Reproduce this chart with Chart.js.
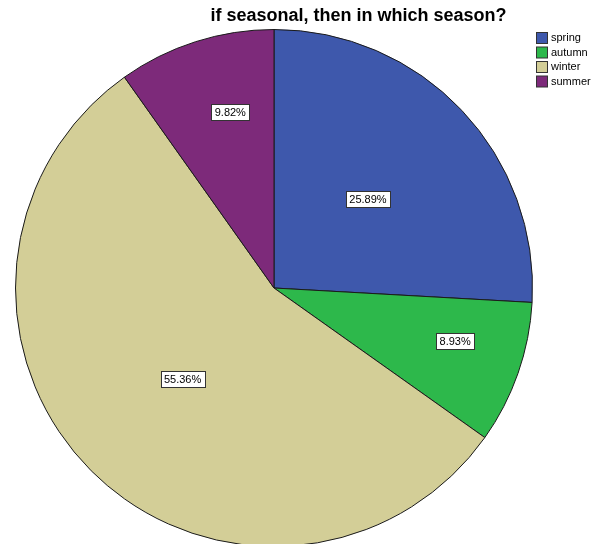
<!DOCTYPE html>
<html>
<head>
<meta charset="utf-8">
<script src="https://cdn.jsdelivr.net/npm/chart.js@4/dist/chart.umd.min.js"></script>
<style>
  html, body { margin: 0; padding: 0; background: #fff; overflow: hidden; }
  #wrap { position: relative; width: 592px; height: 560px; }
</style>
</head>
<body>
<div id="wrap"><canvas id="pie" width="592" height="560"></canvas></div>
<script>
const seasons = ['spring', 'autumn', 'winter', 'summer'];
const percents = [25.89, 8.93, 55.36, 9.82];
const sliceColors = ['#3E58AC', '#2DB84B', '#D3CE97', '#7D2A7A'];
// label placement: fraction of radius, and a small nudge of the angle (degrees)
const labelDist = [0.5, 0.73, 0.5, 0.70];
const labelNudge = [0, -3, 0, 3.7];
const chartTitle = 'if seasonal, then in which season?';

// title, legend and the boxed percentage labels
const decorations = {
    id: 'decorations',
    afterDraw(chart) {
        const ctx = chart.ctx;
        ctx.save();

        ctx.fillStyle = '#000';
        ctx.font = 'bold 18px "Liberation Sans", Arial, sans-serif';
        ctx.textAlign = 'center';
        ctx.textBaseline = 'alphabetic';
        ctx.fillText(chartTitle, 358.5, 21);

        ctx.font = '11px "Liberation Sans", Arial, sans-serif';
        ctx.textAlign = 'left';
        ctx.textBaseline = 'middle';
        seasons.forEach((s, i) => {
            const y = 38 + i * 14.5;
            ctx.fillStyle = sliceColors[i];
            ctx.fillRect(536.5, y - 5.5, 11, 11);
            ctx.strokeStyle = '#333';
            ctx.lineWidth = 1;
            ctx.strokeRect(536.5, y - 5.5, 11, 11);
            ctx.fillStyle = '#000';
            ctx.fillText(s, 551, y);
        });

        const meta = chart.getDatasetMeta(0);
        ctx.font = '11px "Liberation Sans", Arial, sans-serif';
        ctx.textAlign = 'center';
        meta.data.forEach((arc, i) => {
            const p = arc.getProps(['x', 'y', 'startAngle', 'endAngle', 'outerRadius'], true);
            const mid = (p.startAngle + p.endAngle) / 2 + labelNudge[i] * Math.PI / 180;
            const r = p.outerRadius * labelDist[i];
            const x = p.x + Math.cos(mid) * r;
            const y = p.y + Math.sin(mid) * r;
            const txt = percents[i].toFixed(2) + '%';
            const w = Math.round(ctx.measureText(txt).width + 7);
            const h = 16;
            const bx = Math.round(x - w / 2) + 0.5;
            const by = Math.round(y - h / 2) + 0.5;
            ctx.fillStyle = '#fff';
            ctx.fillRect(bx, by, w, h);
            ctx.strokeStyle = '#333';
            ctx.strokeRect(bx, by, w, h);
            ctx.fillStyle = '#000';
            ctx.fillText(txt, x, y + 1);
        });
        ctx.restore();
    }
};

new Chart(document.getElementById('pie'), {
    type: 'pie',
    data: {
        labels: seasons,
        datasets: [{
            data: percents,
            backgroundColor: sliceColors,
            borderColor: '#1a1a1a',
            borderWidth: 1
        }]
    },
    options: {
        responsive: false,
        animation: false,
        layout: { padding: { top: 29, bottom: 13, left: 15, right: 59 } },
        plugins: { legend: { display: false }, tooltip: { enabled: false }, title: { display: false } }
    },
    plugins: [decorations]
});
</script>
</body>
</html>
